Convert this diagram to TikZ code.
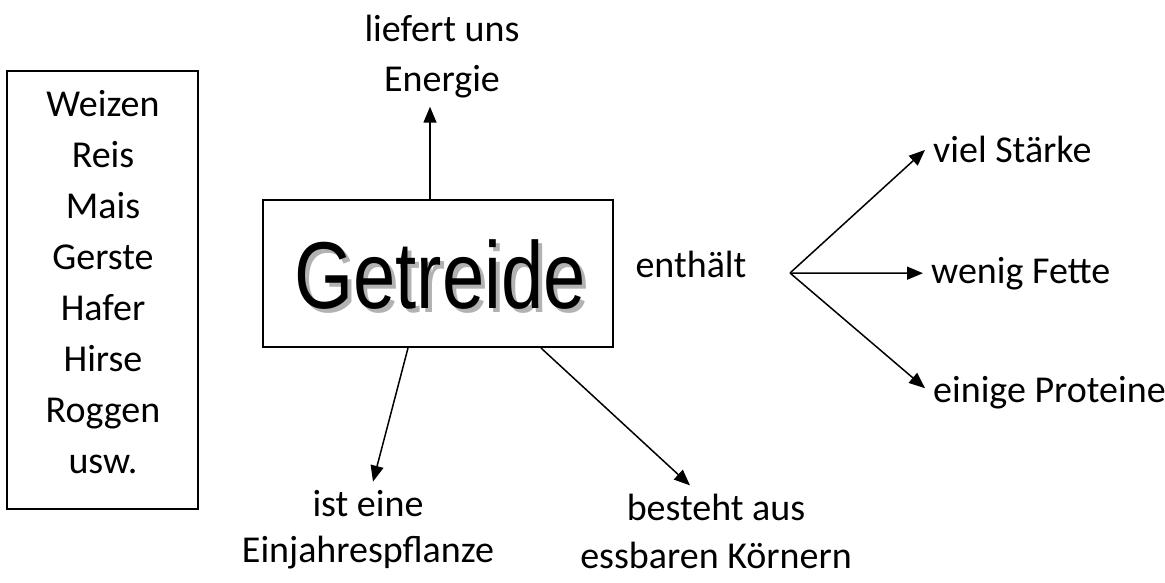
\documentclass[tikz,border=0pt]{standalone}
\usepackage{fontspec}
\setmainfont{Carlito}
\newfontfamily\titlefont[FakeStretch=0.8]{Liberation Sans}
\usetikzlibrary{arrows.meta,positioning,calc}

\begin{document}
\begin{tikzpicture}[x=1pt, y=-1pt,
  label/.style={font=\fontsize{38}{48}\selectfont, align=center, inner sep=8pt},
  frame/.style={rectangle, draw, line width=2pt},
  title/.style={font=\titlefont\fontsize{95}{95}\selectfont, inner sep=0pt},
  arrow/.style={-{Triangle[length=16pt, width=13pt]}, line width=1.5pt}
]
\useasboundingbox (0,0) rectangle (1165,583);
% list of grains
\node[frame, minimum width=191pt, minimum height=438pt] (listbox) at (102.5,290) {};
\node[label, anchor=base, font=\fontsize{38}{51}\selectfont] (grains) at (103,473) {Weizen\\Reis\\Mais\\Gerste\\Hafer\\Hirse\\Roggen\\usw.};
% centre box with shadowed title
\node[frame, minimum width=350pt, minimum height=147pt] (getreide) at (438,273.5) {};
\node[title, text=black!30, anchor=base] (shadow) at (444,312) {Getreide};
\node[title, anchor=base] (titletext) at (440,308) {Getreide};
% labels
\node[label, anchor=base, font=\fontsize{38}{50}\selectfont] (energie) at (442,92) {liefert uns\\Energie};
\node[label, anchor=base] (enthaelt) at (691,277) {enthält};
\coordinate (split) at (790,273);
\node[label, anchor=base west] (staerke) at (925,163) {viel Stärke};
\node[label, anchor=base west] (fette) at (923,283) {wenig Fette};
\node[label, anchor=base west] (proteine) at (925,402) {einige Proteine};
\node[label, anchor=base, font=\fontsize{38}{46}\selectfont] (einjahr) at (368,562) {ist eine\\Einjahrespflanze};
\node[label, anchor=base, font=\fontsize{38}{48}\selectfont] (koerner) at (716,568) {besteht aus\\essbaren Körnern};
% connectors
\draw[arrow] ([xshift=-8pt]getreide.north) -- ([xshift=-12pt]energie.south);
\draw[arrow] ([xshift=-30pt]getreide.south) -- ([xshift=5pt]einjahr.north);
\draw[arrow] ([xshift=103pt]getreide.south) -- ([xshift=-26pt]koerner.north);
\draw[arrow] (split) -- (staerke.west);
\draw[arrow] (split) -- (fette.west);
\draw[arrow] (split) -- ([yshift=4pt]proteine.west);
\end{tikzpicture}
\end{document}
